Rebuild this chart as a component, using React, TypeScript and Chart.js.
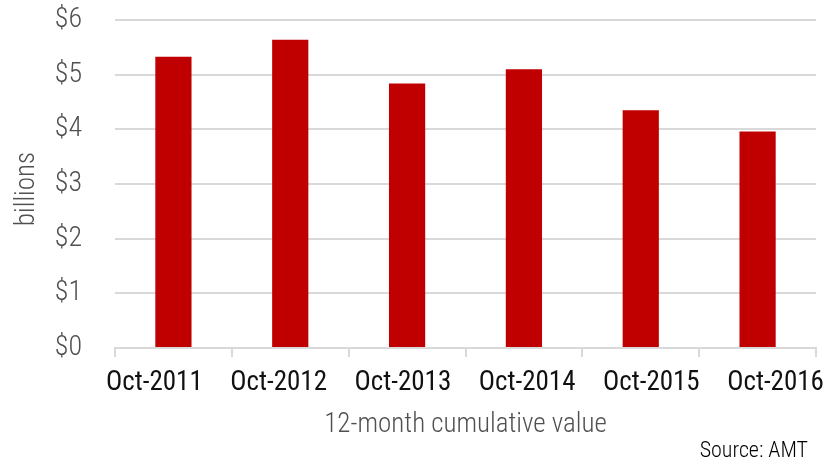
import React, { useEffect, useRef } from "react";
import { Chart, registerables } from "chart.js";

Chart.register(...registerables);

const categories = ["Oct-2011", "Oct-2012", "Oct-2013", "Oct-2014", "Oct-2015", "Oct-2016"];
const values = [5.33, 5.64, 4.84, 5.1, 4.35, 3.96];
const yTickValues = [0, 1, 2, 3, 4, 5, 6];
const yTitle = "billions";
const xTitle = "12-month cumulative value";
const sourceText = "Source: AMT";

const FONT = '"Liberation Sans Narrow", "Arial Narrow", "Roboto Condensed", sans-serif';

export default function App() {
  const ref = useRef<HTMLCanvasElement | null>(null);
  useEffect(() => {
    if (!ref.current) return;
    const textPlugin = {
      id: "texts",
      afterDraw(chart: any) {
        const ctx = chart.ctx;
        const area = chart.chartArea;
        const xs = chart.scales.x;
        ctx.save();
        // category labels (spread slightly wider than the bars, as in the source)
        ctx.fillStyle = "#111111";
        ctx.font = `400 27px ${FONT}`;
        ctx.textAlign = "center";
        ctx.textBaseline = "middle";
        const n = categories.length;
        categories.forEach((c, i) => {
          const cx = xs.getPixelForValue(i) + (i - (n - 1) / 2) * 7.4 - 0.5;
          ctx.fillText(c, cx, 383);
        });
        ctx.fillStyle = "#505050";
        ctx.font = `300 27px ${FONT}`;
        ctx.fillText(xTitle, (area.left + area.right) / 2, 425);
        ctx.save();
        ctx.translate(27, (area.top + area.bottom) / 2 + 5);
        ctx.rotate(-Math.PI / 2);
        ctx.fillText(yTitle, 0, 0);
        ctx.restore();
        ctx.fillStyle = "#000000";
        ctx.font = `300 22px ${FONT}`;
        ctx.textAlign = "right";
        ctx.fillText(sourceText, 808, 451);
        ctx.restore();
      },
    };
    const chart = new Chart(ref.current, {
      type: "bar",
      data: {
        labels: categories,
        datasets: [
          {
            data: values,
            backgroundColor: "#C00000",
            borderWidth: 0,
            categoryPercentage: 1,
            barPercentage: 0.31,
          },
        ],
      },
      options: {
        animation: false,
        responsive: true,
        maintainAspectRatio: false,
        layout: { padding: { top: 20, right: 22, left: 0, bottom: 0 } },
        plugins: { legend: { display: false }, tooltip: { enabled: false } },
        scales: {
          x: {
            afterFit(scale: any) {
              scale.height = 117;
              scale.paddingLeft = 0;
              scale.paddingRight = 0;
            },
            grid: {
              display: true,
              drawOnChartArea: false,
              drawTicks: true,
              tickLength: 9,
              color: "#d9d9d9",
              lineWidth: 2,
              offset: true,
            },
            border: { display: true, color: "#d9d9d9", width: 2 },
            ticks: {
              display: false,
              maxRotation: 0,
              autoSkip: false,
            },
          },
          y: {
            min: 0,
            max: 6,
            afterFit(scale: any) {
              scale.width = 115;
              scale.paddingTop = 0;
              scale.paddingBottom = 0;
            },
            afterBuildTicks(scale: any) {
              scale.ticks = yTickValues.map((v) => ({ value: v }));
            },
            grid: { color: "#d9d9d9", lineWidth: 2, drawTicks: false },
            border: { display: false },
            ticks: {
              color: "#505050",
              font: { family: FONT, size: 28, weight: "300" },
              padding: 33,
              callback: (v: any) => "$" + v,
            },
          },
        },
      },
      plugins: [textPlugin],
    });
    return () => chart.destroy();
  }, []);
  return (
    <div style={{ position: "fixed", left: 0, top: 0, width: 838, height: 465, background: "#fff" }}>
      <canvas ref={ref} />
    </div>
  );
}
